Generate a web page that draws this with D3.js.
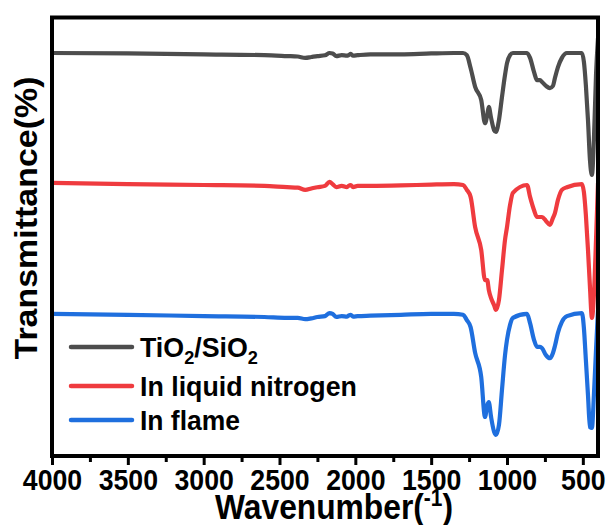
<!DOCTYPE html>
<html>
<head>
<meta charset="utf-8">
<script src="https://cdn.jsdelivr.net/npm/d3@7/dist/d3.min.js"></script>
<style>
  body { margin: 0; background: #fff; }
  svg { display: block; font-family: "Liberation Sans", Arial, sans-serif; font-weight: bold; }
</style>
</head>
<body>
<div id="chart"></div>
<script>
// FTIR spectra, shared wavenumber grid (cm-1) and transmittance (offset, a.u.)
const wavenumbers = [4000, 3500, 3000, 2600, 2450, 2380, 2330, 2290, 2250, 2200,
    2170, 2150, 2125, 2090, 2055, 2045, 2030, 2015, 1985, 1900,
    1700, 1500, 1350, 1290, 1265, 1240, 1210, 1170, 1145, 1130,
    1120, 1105, 1085, 1073, 1053, 1033, 1013, 1000, 980, 961,
    868, 848, 822, 802, 782, 769, 743, 717, 697, 684,
    664, 638, 605, 506, 493, 480, 466, 453, 440, 427,
    413, 400];

const tio2Sio2 = [91.9, 91.8, 91.6, 91.4, 91.2, 91.1, 90.8, 91.0, 91.2, 91.4,
    91.9, 91.8, 91.2, 91.4, 91.3, 91.4, 91.7, 91.3, 91.4, 91.6,
    91.6, 91.8, 91.9, 91.9, 91.4, 88.5, 84.2, 81.2, 75.9, 77.8,
    79.6, 77.1, 74.3, 73.9, 76.6, 81.9, 86.9, 89.6, 91.4, 91.9,
    91.9, 90.8, 87.6, 85.7, 85.7, 85.3, 84.4, 83.9, 84.4, 86.2,
    88.7, 90.8, 91.9, 91.9, 89.9, 84.6, 76.6, 67.5, 64.1, 72.1,
    86.9, 95.3];

const liquidNitrogen = [62.3, 62.0, 61.8, 61.6, 61.3, 61.2, 60.7, 61.0, 61.3, 61.6,
    62.5, 62.0, 61.3, 61.6, 61.3, 61.6, 61.8, 61.3, 61.6, 61.6,
    61.7, 61.9, 62.0, 61.8, 60.7, 59.1, 52.2, 47.0, 40.1, 40.1,
    37.9, 36.0, 34.4, 33.3, 35.6, 42.4, 49.3, 52.2, 57.2, 60.0,
    61.8, 59.1, 56.1, 54.5, 54.5, 54.5, 53.6, 52.7, 54.3, 55.4,
    58.4, 60.7, 61.3, 62.0, 60.2, 55.0, 47.0, 38.5, 31.5, 36.7,
    49.3, 62.3];

const inFlame = [32.4, 32.2, 31.9, 31.7, 31.5, 31.5, 31.2, 31.4, 31.7, 31.9,
    32.6, 32.4, 31.7, 31.9, 31.8, 32.0, 32.2, 31.8, 31.9, 32.0,
    32.2, 32.4, 32.4, 32.2, 31.0, 29.4, 23.5, 18.0, 8.9, 11.6,
    12.3, 8.9, 5.5, 4.8, 7.1, 15.1, 23.0, 26.5, 29.9, 31.5,
    32.4, 30.3, 26.5, 24.9, 24.9, 24.6, 23.0, 22.3, 23.5, 25.1,
    28.1, 30.6, 31.9, 32.6, 29.2, 21.9, 13.9, 6.6, 6.4, 13.9,
    24.2, 33.3];

const seriesNames = ["TiO2/SiO2", "In liquid nitrogen", "In flame"];
const seriesColors = ["#4d4d4d", "#ef3b3f", "#1f6fde"];
const majorTicks = [4000, 3500, 3000, 2500, 2000, 1500, 1000, 500];
const minorTicks = [3750, 3250, 2750, 2250, 1750, 1250, 750];

const series = [tio2Sio2, liquidNitrogen, inFlame].map((vals, i) => ({
    name: seriesNames[i],
    color: seriesColors[i],
    points: wavenumbers.map((w, j) => ({ w: w, t: vals[j] }))
}));

const width = 609;
const height = 525;
const margin = { top: 17.5, right: 11, bottom: 69, left: 52 };

const svg = d3.select("#chart").append("svg")
    .attr("width", width)
    .attr("height", height);

const x = d3.scaleLinear()
    .domain([4000, 400])
    .range([margin.left, width - margin.right]);

const y = d3.scaleLinear()
    .domain([0, 100])
    .range([height - margin.bottom, margin.top]);

svg.append("clipPath")
    .attr("id", "plot-clip")
    .append("rect")
    .attr("x", margin.left)
    .attr("y", margin.top)
    .attr("width", width - margin.left - margin.right)
    .attr("height", height - margin.top - margin.bottom);

const line = d3.line()
    .x(d => x(d.w))
    .y(d => y(d.t))
    .curve(d3.curveMonotoneX);

svg.append("g")
    .attr("clip-path", "url(#plot-clip)")
    .selectAll("path")
    .data(series)
    .join("path")
    .attr("d", d => line(d.points))
    .attr("fill", "none")
    .attr("stroke", d => d.color)
    .attr("stroke-width", 4.2)
    .attr("stroke-linejoin", "round");

// axes
const xAxis = svg.append("g")
    .attr("class", "x-axis")
    .attr("transform", `translate(0,${height - margin.bottom})`)
    .call(d3.axisBottom(x).tickValues(majorTicks).tickSize(9).tickFormat(d3.format("d")));

xAxis.select(".domain").remove();
xAxis.selectAll(".tick line")
    .attr("stroke", "#000")
    .attr("stroke-width", 3);
xAxis.selectAll(".tick text")
    .attr("y", 34)
    .attr("dy", 0)
    .attr("fill", "#000")
    .style("font-size", "29px")
    .style("font-family", "Liberation Sans, Arial, sans-serif")
    .style("font-weight", "bold")
    .attr("transform", "scale(0.92,1)");

svg.append("g")
    .attr("class", "x-minor")
    .attr("transform", `translate(0,${height - margin.bottom})`)
    .call(d3.axisBottom(x).tickValues(minorTicks).tickSize(6).tickFormat(""))
    .call(g => g.select(".domain").remove())
    .selectAll(".tick line")
    .attr("stroke", "#000")
    .attr("stroke-width", 3);

// frame
svg.append("rect")
    .attr("x", margin.left)
    .attr("y", margin.top)
    .attr("width", width - margin.left - margin.right)
    .attr("height", height - margin.top - margin.bottom)
    .attr("fill", "none")
    .attr("stroke", "#000")
    .attr("stroke-width", 4);

function fitWidth(text, target) {
    const w = text.node().getBBox().width;
    if (w > 0) text.attr("transform", `scale(${target / w},1)`);
}

// y label
const yLabel = svg.append("g")
    .attr("transform", "translate(37,218) rotate(-90)")
    .append("text")
    .attr("text-anchor", "middle")
    .style("font-size", "31px")
    .text("Transmittance(%)");
fitWidth(yLabel, 283);

// x label
const xLabel = svg.append("g")
    .attr("transform", "translate(334,519)")
    .append("text")
    .attr("text-anchor", "middle")
    .style("font-size", "35px");
xLabel.append("tspan").text("Wavenumber(");
xLabel.append("tspan")
    .attr("dy", -13)
    .style("font-size", "23px")
    .text("-1");
xLabel.append("tspan")
    .attr("dy", 13)
    .text(")");
fitWidth(xLabel, 238);

// legend
const legendBaselines = [357, 396, 430];
const legendWidths = [118, 217, 100];

const legend = svg.append("g").attr("class", "legend");

series.forEach((s, i) => {
    const row = legend.append("g")
        .attr("transform", `translate(0,${legendBaselines[i]})`);

    row.append("line")
        .attr("x1", 71)
        .attr("x2", 132)
        .attr("y1", -10)
        .attr("y2", -10)
        .attr("stroke", s.color)
        .attr("stroke-width", 4.5)
        .attr("stroke-linecap", "round");

    const label = row.append("g")
        .attr("transform", "translate(140,0)")
        .append("text")
        .style("font-size", "28px");

    // digits after letters become subscripts
    const parts = s.name.match(/[A-Za-z\/ ]+|\d+/g);
    let sub = false;
    parts.forEach(p => {
        const isDigit = /^\d+$/.test(p);
        const ts = label.append("tspan").text(p);
        if (isDigit && !sub) {
            ts.attr("dy", 7).style("font-size", "19px");
            sub = true;
        } else if (!isDigit && sub) {
            ts.attr("dy", -7);
            sub = false;
        }
    });
    fitWidth(label, legendWidths[i]);
});
</script>
</body>
</html>
